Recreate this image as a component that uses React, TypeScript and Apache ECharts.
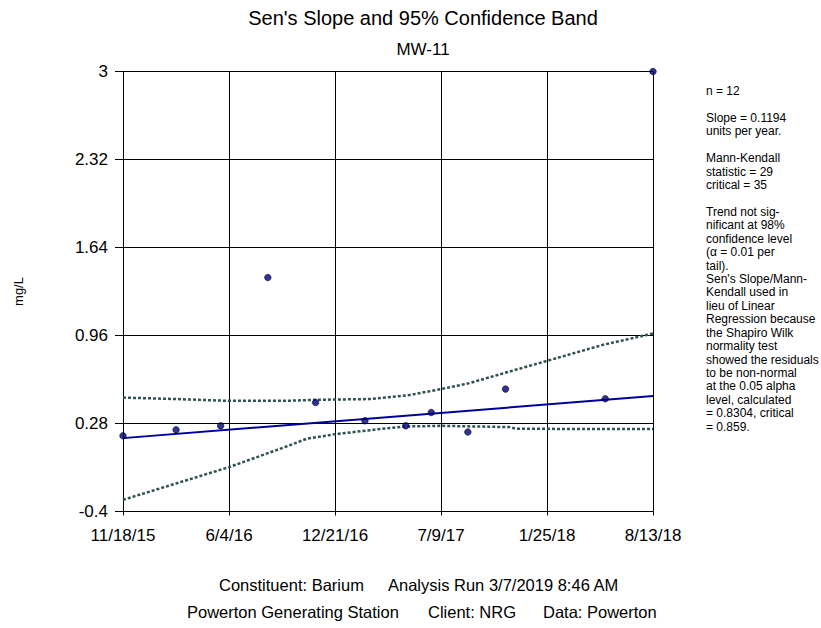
import React, { useEffect, useRef } from "react";
import * as echarts from "echarts";

// Days since 11/18/15
const xTickLabels = ["11/18/15", "6/4/16", "12/21/16", "7/9/17", "1/25/18", "8/13/18"];
const xMax = 999;
const xInterval = 199.8;

const sampleDays = [0, 100, 184, 273, 363, 456, 533, 581, 650, 721, 909, 999];
const sampleValues = [0.185, 0.231, 0.262, 1.408, 0.442, 0.301, 0.262, 0.365, 0.214, 0.546, 0.471, 3.0];

const senDays = [0, 999];
const senValues = [0.167, 0.492];

const upperDays = [0, 100, 200, 308, 363, 465, 540, 600, 653, 729, 800, 905, 999];
const upperValues = [0.48, 0.469, 0.455, 0.455, 0.463, 0.469, 0.5, 0.546, 0.592, 0.682, 0.765, 0.888, 0.975];

const lowerDays = [0, 200, 308, 346, 401, 484, 534, 600, 729, 742, 999];
const lowerValues = [-0.31, -0.057, 0.102, 0.162, 0.198, 0.237, 0.257, 0.262, 0.252, 0.239, 0.237];

const sideText = [
  "n = 12",
  "",
  "Slope = 0.1194",
  "units per year.",
  "",
  "Mann-Kendall",
  "statistic = 29",
  "critical = 35",
  "",
  "Trend not sig-",
  "nificant at 98%",
  "confidence level",
  "(α = 0.01 per",
  "tail).",
  "Sen's Slope/Mann-",
  "Kendall used in",
  "lieu of Linear",
  "Regression because",
  "the Shapiro Wilk",
  "normality test",
  "showed the residuals",
  "to be non-normal",
  "at the 0.05 alpha",
  "level, calculated",
  "= 0.8304, critical",
  "= 0.859.",
];

const FONT = "'Liberation Sans', Arial, sans-serif";

const zip = (xs: number[], ys: number[]) => xs.map((x, i) => [x, ys[i]]);

const footText = (text: string, x: number, y: number) => ({
  type: "text",
  x,
  y,
  style: { text, fontSize: 16.5, fontFamily: FONT, fill: "#000", verticalAlign: "middle" },
});

export default function App() {
  const ref = useRef<HTMLDivElement>(null);
  useEffect(() => {
    if (!ref.current) return;
    const chart = echarts.init(ref.current, null, { renderer: "svg" });
    const bandStyle = { color: "#2f5252", width: 2.5, type: [3, 2] as any };
    chart.setOption({
      animation: false,
      backgroundColor: "#ffffff",
      textStyle: { fontFamily: FONT },
      grid: { left: 123, top: 71.5, width: 530, height: 440 },
      xAxis: {
        type: "value",
        min: 0,
        max: xMax,
        interval: xInterval,
        axisLine: { show: true, onZero: false, lineStyle: { color: "#000", width: 1 } },
        axisTick: { show: true, length: 4, lineStyle: { color: "#000" } },
        axisLabel: {
          fontSize: 17,
          color: "#000",
          margin: 15,
          fontFamily: FONT,
          formatter: (v: number) => xTickLabels[Math.round(v / xInterval)] ?? "",
        },
        splitLine: { show: true, lineStyle: { color: "#000", width: 1 } },
      },
      yAxis: {
        type: "value",
        min: -0.4,
        max: 3,
        interval: 0.68,
        name: "mg/L",
        nameLocation: "middle",
        nameGap: 98,
        nameRotate: 90,
        nameTextStyle: { fontSize: 13, color: "#000", fontFamily: FONT },
        axisLine: { show: true, onZero: false, lineStyle: { color: "#000", width: 1 } },
        axisTick: { show: true, length: 8, lineStyle: { color: "#000" } },
        axisLabel: {
          fontSize: 17,
          color: "#000",
          margin: 15,
          fontFamily: FONT,
          formatter: (v: number) => String(+v.toFixed(2)),
        },
        splitLine: { show: true, lineStyle: { color: "#000", width: 1 } },
      },
      series: [
        {
          type: "line",
          data: zip(upperDays, upperValues),
          showSymbol: false,
          symbol: "none",
          lineStyle: bandStyle,
          z: 2,
        },
        {
          type: "line",
          data: zip(lowerDays, lowerValues),
          showSymbol: false,
          symbol: "none",
          lineStyle: bandStyle,
          z: 2,
        },
        {
          type: "line",
          data: zip(senDays, senValues),
          showSymbol: false,
          symbol: "none",
          lineStyle: { color: "#000099", width: 2 },
          z: 3,
        },
        {
          type: "scatter",
          data: zip(sampleDays, sampleValues),
          symbol: "circle",
          symbolSize: 6.5,
          itemStyle: { color: "#00007a", borderColor: "#000022", borderWidth: 0.8 },
          z: 4,
        },
      ],
      graphic: [
        {
          type: "text",
          x: 423,
          y: 18,
          style: {
            text: "Sen's Slope and 95% Confidence Band",
            fontSize: 20,
            fontFamily: FONT,
            fill: "#000",
            align: "center",
            verticalAlign: "middle",
          },
        },
        {
          type: "text",
          x: 423,
          y: 49,
          style: {
            text: "MW-11",
            fontSize: 17,
            fontFamily: FONT,
            fill: "#000",
            align: "center",
            verticalAlign: "middle",
          },
        },
        {
          type: "text",
          x: 706,
          y: 84.3,
          style: {
            text: sideText.join("\n"),
            fontSize: 12,
            lineHeight: 13.43,
            fontFamily: FONT,
            fill: "#000",
            align: "left",
            verticalAlign: "top",
          },
        },
        footText("Constituent: Barium", 219, 584.5),
        footText("Analysis Run 3/7/2019 8:46 AM", 388, 584.5),
        footText("Powerton Generating Station", 187, 612),
        footText("Client: NRG", 428, 612),
        footText("Data: Powerton", 543, 612),
      ],
    });
    return () => chart.dispose();
  }, []);
  return (
    <div
      ref={ref}
      style={{ position: "absolute", left: 0, top: 0, width: 821, height: 628 }}
    />
  );
}
